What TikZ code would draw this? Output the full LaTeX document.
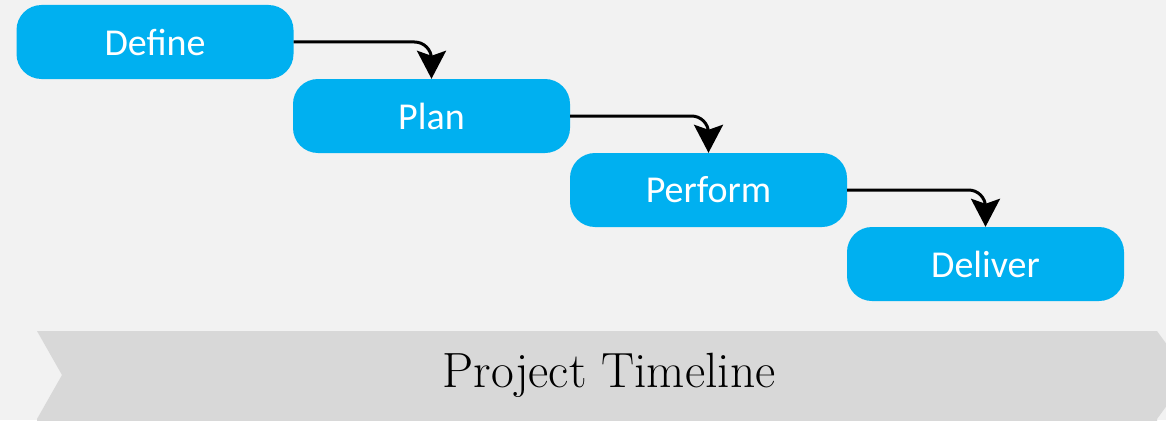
\documentclass[tikz,border=0pt]{standalone}
\usepackage{fontspec}
\newfontfamily\boxfont{Carlito}
\usetikzlibrary{arrows.meta}
\definecolor{bg}{HTML}{F2F2F2}
\definecolor{boxblue}{HTML}{00B0F0}
\definecolor{banner}{HTML}{D8D8D8}
\tikzset{
  stepbox/.style={rectangle, rounded corners=25pt, fill=boxblue, text=white,
    minimum width=277pt, minimum height=74pt, inner sep=0pt,
    font=\boxfont\fontsize{38}{40}\selectfont},
  linkline/.style={line width=3pt, rounded corners=17pt},
  linktip/.style={line width=3pt, -{Stealth[length=28pt,width=29pt,inset=5pt]}},
  bannerlabel/.style={font=\fontsize{49.5}{54}\selectfont, text=black}
}
\begin{document}
\begin{tikzpicture}[x=1pt,y=-1pt]
\useasboundingbox (0,0) rectangle (1166,420);
\fill[bg] (0,0) rectangle (1166,420);
\fill[banner] (37,331) -- (1157,331) -- (1189,375) -- (1157,419) -- (1157,422) -- (37,422) -- (37,419) -- (62,375) -- cycle;
\node[stepbox] (define) at (155,42) {Define};
\node[stepbox] (plan) at (431.5,116) {Plan};
\node[stepbox] (perform) at (708.5,190) {Perform};
\node[stepbox] (deliver) at (985.5,264) {Deliver};
\draw[linkline] (define.east) -| ([yshift=12pt]plan.north);
\draw[linktip] ([yshift=16pt]plan.north) -- (plan.north);
\draw[linkline] (plan.east) -| ([yshift=12pt]perform.north);
\draw[linktip] ([yshift=16pt]perform.north) -- (perform.north);
\draw[linkline] (perform.east) -| ([yshift=12pt]deliver.north);
\draw[linktip] ([yshift=16pt]deliver.north) -- (deliver.north);
\node[bannerlabel] (timeline) at (609,375) {Project Timeline};
\end{tikzpicture}
\end{document}
